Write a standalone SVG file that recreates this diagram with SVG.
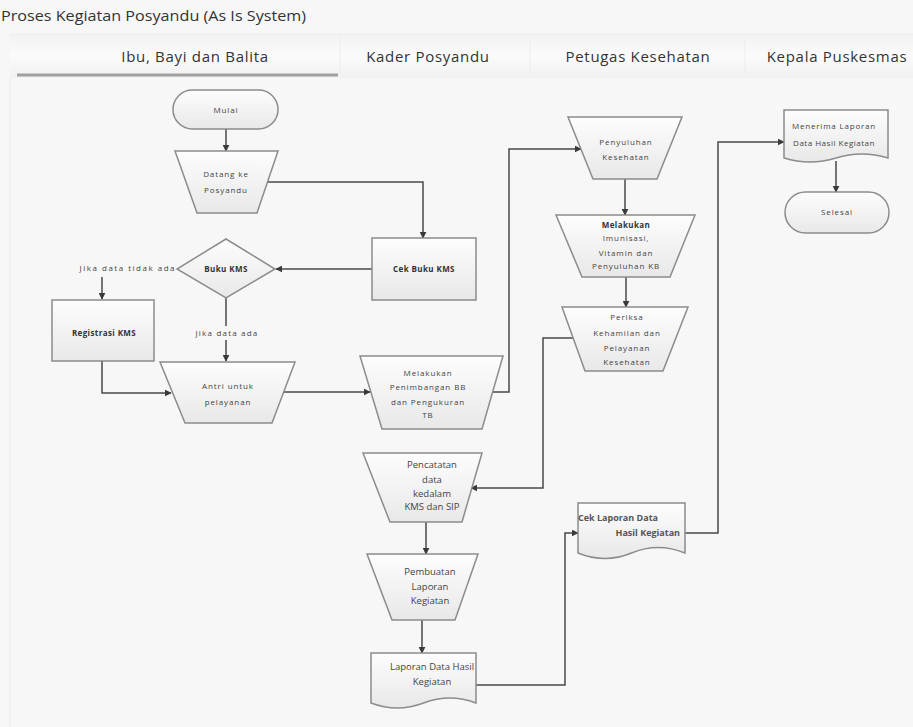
<svg xmlns="http://www.w3.org/2000/svg" width="913" height="727" viewBox="0 0 913 727">
<defs>
<linearGradient id="g" x1="0" y1="0" x2="0" y2="1"><stop offset="0" stop-color="#fdfdfd"/><stop offset="1" stop-color="#e8e8e8"/></linearGradient>
<linearGradient id="hb" x1="0" y1="0" x2="0" y2="1"><stop offset="0" stop-color="#f1f1f1"/><stop offset="0.5" stop-color="#fbfbfb"/><stop offset="1" stop-color="#f1f1f1"/></linearGradient>
<marker id="ar" viewBox="0 0 10 10" refX="9" refY="5" markerWidth="7" markerHeight="7" markerUnits="userSpaceOnUse" orient="auto"><path d="M0,0 L10,5 L0,10 Z" fill="#3a3a3a"/></marker>
<style>
.s{fill:url(#g);stroke:#8c8c8c;stroke-width:1.5}
.t{font-family:"Open Sans","Liberation Sans",sans-serif;font-size:8px;fill:#444;text-anchor:middle;letter-spacing:0.9px}
.b{font-weight:bold;letter-spacing:0.4px;fill:#333}
.l{font-family:"Open Sans","Liberation Sans",sans-serif;font-size:9.5px;fill:#444;text-anchor:middle}
.c{fill:none;stroke:#4a4a4a;stroke-width:1.5;marker-end:url(#ar)}
.h{font-family:"Open Sans","Liberation Sans",sans-serif;font-size:15px;fill:#333;text-anchor:middle;letter-spacing:0.7px}
</style>
</defs>
<rect x="0" y="0" width="913" height="727" fill="#f7f7f7"/>
<text x="1" y="21" font-family="Open Sans, Liberation Sans, sans-serif" font-size="14" fill="#333" textLength="305" lengthAdjust="spacingAndGlyphs">Proses Kegiatan Posyandu (As Is System)</text>
<g id="header">
<rect x="10" y="33" width="903" height="45" fill="url(#hb)"/>
<line x1="340" y1="38" x2="340" y2="74" stroke="#ececec"/>
<line x1="530" y1="38" x2="530" y2="74" stroke="#ececec"/>
<line x1="745" y1="38" x2="745" y2="74" stroke="#ececec"/>
<line x1="17" y1="75" x2="338" y2="75" stroke="#a0a0a0" stroke-width="3"/>
<line x1="10" y1="78" x2="10" y2="727" stroke="#e6e6e6"/>
<text class="h" x="195" y="62">Ibu, Bayi dan Balita</text>
<text class="h" x="428" y="62">Kader Posyandu</text>
<text class="h" x="638" y="62">Petugas Kesehatan</text>
<text class="h" x="837" y="62">Kepala Puskesmas</text>
</g>
<g id="connectors">
<path class="c" d="M226,129 V151"/>
<path class="c" d="M266,182 H423 V238"/>
<path class="c" d="M372,269 H276"/>
<path class="c" d="M102,277 V299"/>
<path class="c" d="M226,298 V361"/>
<path class="c" d="M102,361 V393 H171"/>
<path class="c" d="M284,392 H370"/>
<path class="c" d="M492,392 H509 V149 H581"/>
<path class="c" d="M625,179 V215"/>
<path class="c" d="M626,277 V307"/>
<path class="c" d="M573,338 H543 V488 H471"/>
<path class="c" d="M426,522 V554"/>
<path class="c" d="M422,620 V653"/>
<path class="c" d="M476,685 H565 V533 H578"/>
<path class="c" d="M685,533 H718 V142 H784"/>
<path class="c" d="M836,161 V192"/>
</g>
<g id="mulai"><rect class="s" x="173" y="90" width="105" height="39" rx="19.5"/><text class="t" x="226" y="113">Mulai</text></g>
<g id="datang"><path class="s" d="M175,151 H278 L257,213 H197 Z"/><text class="t" x="226" y="177">Datang ke</text><text class="t" x="226" y="193">Posyandu</text></g>
<g id="cek-buku"><rect class="s" x="372" y="238" width="104" height="62"/><text class="t b" x="424" y="272">Cek Buku KMS</text></g>
<g id="buku-kms"><path class="s" d="M226,239 L275,269 L226,298 L177,269 Z"/><text class="t b" x="226" y="272">Buku KMS</text></g>
<g id="label-tidak"><text class="t" x="176" y="271" style="text-anchor:end;letter-spacing:1.5px">Jika data tidak ada</text></g>
<g id="registrasi"><rect class="s" x="52" y="300" width="102" height="61"/><text class="t b" x="104" y="336">Registrasi KMS</text></g>
<g id="label-ada"><rect x="193" y="326" width="68" height="14" fill="#f7f7f7"/><text class="t" x="227" y="336" style="letter-spacing:1.2px">Jika data ada</text></g>
<g id="antri"><path class="s" d="M160,362 H295 L272,423 H185 Z"/><text class="t" x="228" y="389">Antri untuk</text><text class="t" x="228" y="405">pelayanan</text></g>
<g id="penimbangan"><path class="s" d="M360,356 H503 L482,429 H382 Z"/><text class="t" x="428" y="376">Melakukan</text><text class="t" x="428" y="390">Penimbangan BB</text><text class="t" x="428" y="405">dan Pengukuran</text><text class="t" x="428" y="418">TB</text></g>
<g id="penyuluhan"><path class="s" d="M568,117 H682 L657,179 H593 Z"/><text class="t" x="626" y="145">Penyuluhan</text><text class="t" x="626" y="160">Kesehatan</text></g>
<g id="imunisasi"><path class="s" d="M556,215 H695 L670,277 H582 Z"/><text class="t b" x="626" y="228">Melakukan</text><text class="t" x="626" y="241">Imunisasi,</text><text class="t" x="626" y="256">Vitamin dan</text><text class="t" x="626" y="269">Penyuluhan KB</text></g>
<g id="periksa"><path class="s" d="M562,307 H688 L663,371 H585 Z"/><text class="t" x="627" y="320">Periksa</text><text class="t" x="627" y="336">Kehamilan dan</text><text class="t" x="627" y="351">Pelayanan</text><text class="t" x="627" y="365">Kesehatan</text></g>
<g id="pencatatan"><path class="s" d="M363,453 H482 L462,522 H390 Z"/><text class="l" x="432" y="468">Pencatatan</text><text class="l" x="432" y="483">data</text><text class="l" x="432" y="497">kedalam</text><text class="l" x="432" y="510">KMS dan SIP</text></g>
<g id="pembuatan"><path class="s" d="M367,554 H478 L455,620 H392 Z"/><text class="l" x="430" y="575">Pembuatan</text><text class="l" x="430" y="590">Laporan</text><text class="l" x="430" y="604">Kegiatan</text></g>
<g id="laporan"><path class="s" d="M371,653 H476 V703 Q449.75,693 423.5,703 T371,703 Z"/><text class="l" x="432" y="670">Laporan Data Hasil</text><text class="l" x="432" y="685">Kegiatan</text></g>
<g id="cek-laporan"><path class="s" d="M578,503 H685 V553 Q658,542 631.5,553 T578,553 Z"/><text class="l" x="578" y="521" style="text-anchor:start;font-size:9px;font-weight:bold;fill:#555">Cek Laporan Data</text><text class="l" x="680" y="536" style="text-anchor:end;font-size:9px;font-weight:bold;fill:#555">Hasil Kegiatan</text></g>
<g id="menerima"><path class="s" d="M784,110 H888 V158 Q862,150 836,158 T784,158 Z"/><text class="t" x="834" y="129" style="letter-spacing:0.8px">Menerima Laporan</text><text class="t" x="834" y="146" style="letter-spacing:0.5px">Data Hasil Kegiatan</text></g>
<g id="selesai"><rect class="s" x="785" y="192" width="104" height="41" rx="20.5"/><text class="t" x="837" y="215">Selesai</text></g>
</svg>
